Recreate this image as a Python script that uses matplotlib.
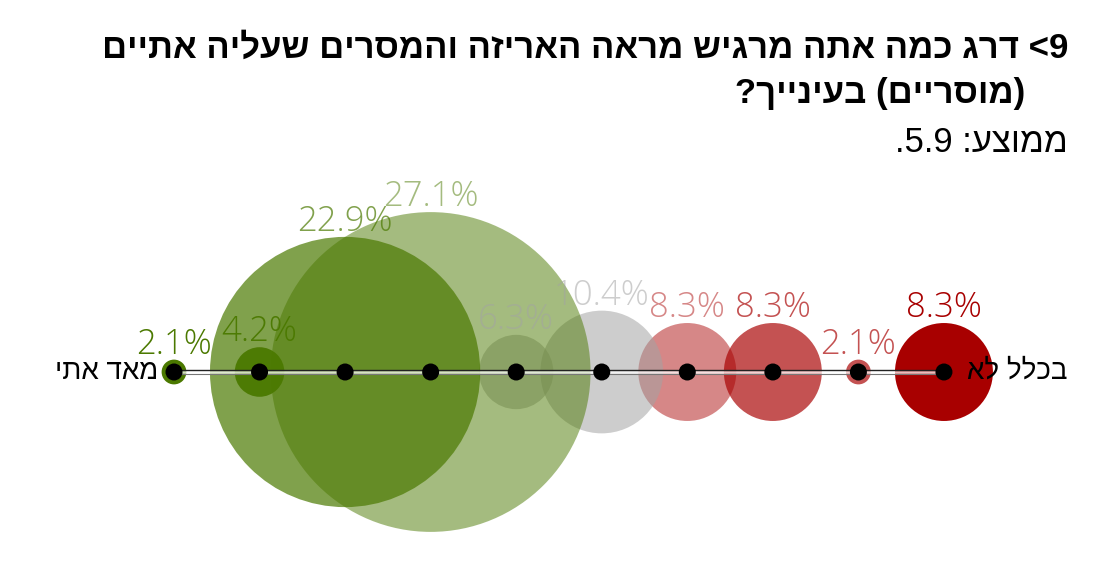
import re
import matplotlib
matplotlib.use("Agg")
import matplotlib.pyplot as plt
from matplotlib.patches import Circle

# ---- data (score 1 = "בכלל לא" ... score 10 = "מאד אתי") ----
scores = [1, 2, 3, 4, 5, 6, 7, 8, 9, 10]
percents = [8.3, 2.1, 8.3, 8.3, 10.4, 6.3, 27.1, 22.9, 4.2, 2.1]
base_colors = ['#a80000', '#a80000', '#a80000', '#a80000', '#a3a3a3',
               '#a3a3a3', '#4b7900', '#4b7900', '#4b7900', '#4b7900']
alphas = [1.0, 0.68, 0.68, 0.47, 0.54, 0.54, 0.5, 0.7, 0.95, 1.0]
title_line1 = "9> דרג כמה אתה מרגיש מראה האריזה והמסרים שעליה אתיים"
title_line2 = "(מוסריים) בעינייך?"
subtitle = "ממוצע: 5.9."
label_low = "בכלל לא"
label_high = "מאד אתי"

MIRROR = {'(': ')', ')': '(', '<': '>', '>': '<', '[': ']', ']': '['}


def rtl(s):
    parts = re.findall(r'\d+(?:[.,]\d+)*|[^\d]+', s)
    out = []
    for p in reversed(parts):
        if p[0].isdigit():
            out.append(p)
        else:
            out.append(''.join(MIRROR.get(c, c) for c in reversed(p)))
    return ''.join(out)


W, H, DPI = 1114, 566, 100
fig = plt.figure(figsize=(W / DPI, H / DPI), dpi=DPI)
ax = fig.add_axes([0, 0, 1, 1])
ax.set_axis_off()

step_px = 85.55          # pixels per score step
left_px, line_px = 174, 372
ax.set_xlim(10 + left_px / step_px, 10 - (W - left_px) / step_px)
ax.set_ylim(-(H - line_px) / step_px, line_px / step_px)
ax.set_aspect('equal')

px = 1.0 / step_px                 # one pixel in data units
PT = 0.72                          # points per pixel at 100 dpi
r_per_pct = 5.9 * px

# bubbles
for s, p, c, a in zip(scores, percents, base_colors, alphas):
    ax.add_patch(Circle((s, 0), p * r_per_pct, facecolor=c, alpha=a,
                        edgecolor='none', zorder=2))

# axis line (double)
ax.plot([min(scores), max(scores)], [0, 0], color='white', lw=2.6 * PT,
        alpha=0.75, zorder=3, solid_capstyle='butt')
ax.plot([min(scores), max(scores)], [2 * px, 2 * px], color='#222222',
        lw=1.4 * PT, zorder=3, solid_capstyle='butt')
ax.plot([min(scores), max(scores)], [-2 * px, -2 * px], color='#777777',
        lw=1.1 * PT, zorder=3, solid_capstyle='butt')

# dots
for s in scores:
    ax.add_patch(Circle((s, 0), 8.5 * px, facecolor='black',
                        edgecolor='none', zorder=4))

# percent labels
for s, p, c, a in zip(scores, percents, base_colors, alphas):
    ax.annotate(f"{p:.1f}%", xy=(s, p * r_per_pct), xytext=(0, 6 * PT),
                textcoords='offset points', ha='center', va='baseline',
                fontsize=25, color=c, alpha=a, zorder=5,
                family='Open Sans', fontweight=300)

# end labels
ax.annotate(rtl(label_high), xy=(max(scores), 0), xytext=(-16 * PT, 0),
            textcoords='offset points', ha='right', va='center',
            fontsize=20, family='Liberation Sans', color='black')
ax.annotate(rtl(label_low), xy=(min(scores), 0), xytext=(23 * PT, 0),
            textcoords='offset points', ha='left', va='center',
            fontsize=20, family='Liberation Sans', color='black')

# titles
fig.text(1068 / W, 1 - 58 / H, rtl(title_line1), ha='right', va='baseline',
         fontsize=25, fontweight='bold', family='Liberation Sans')
fig.text(1025 / W, 1 - 103 / H, rtl(title_line2), ha='right', va='baseline',
         fontsize=25, fontweight='bold', family='Liberation Sans')
fig.text(1068 / W, 1 - 152 / H, rtl(subtitle), ha='right', va='baseline',
         fontsize=25, family='Liberation Sans')

fig.savefig('out.png', dpi=DPI, facecolor='white')
